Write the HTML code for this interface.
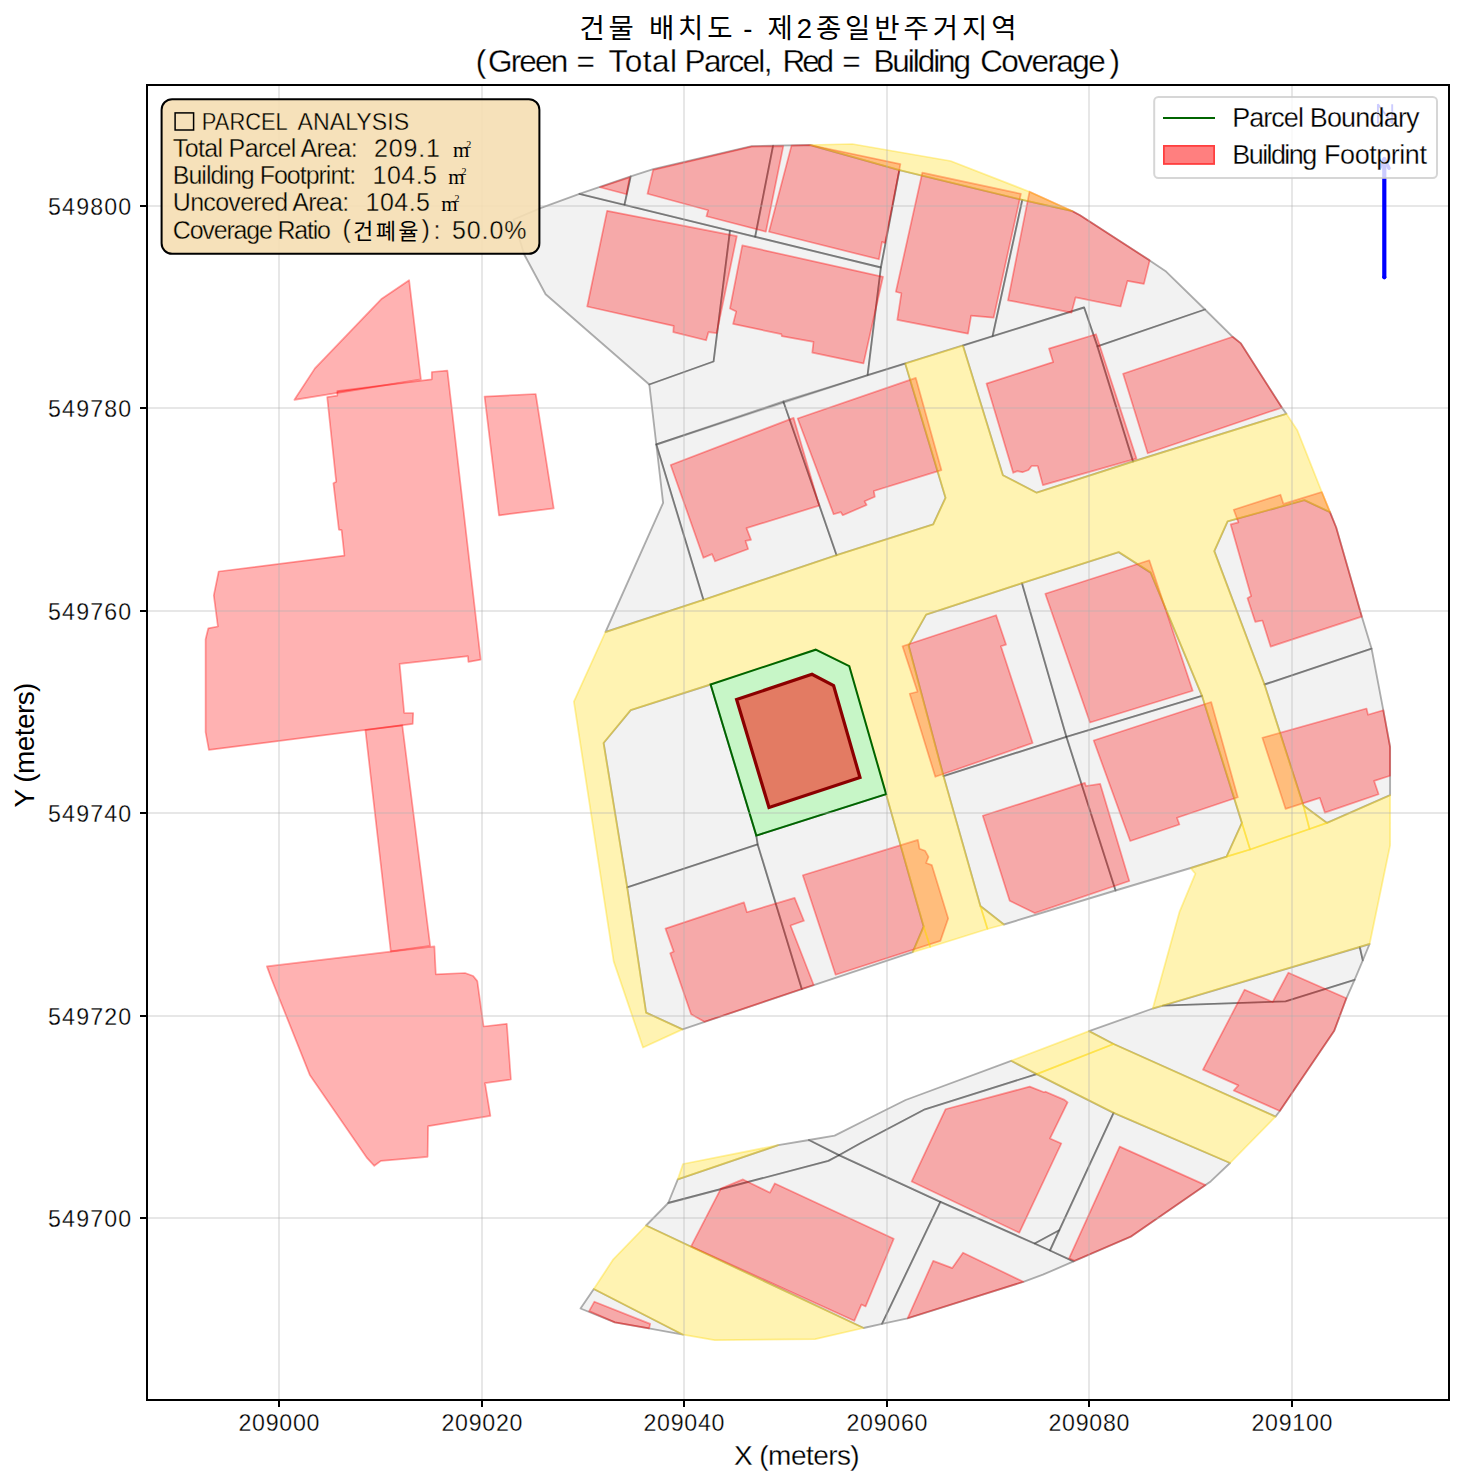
<!DOCTYPE html>
<html lang="ko"><head><meta charset="utf-8"><title>건물 배치도 - 제2종일반주거지역</title>
<style>html,body{margin:0;padding:0;background:#fff;}body{width:1464px;height:1483px;overflow:hidden;}svg{display:block;}text{font-family:"Liberation Sans",sans-serif;fill:#000;}
.pc{fill:rgba(211,211,211,0.3);stroke:rgba(0,0,0,0.31);stroke-width:1.85;stroke-linejoin:round;}
.rd{fill:rgba(255,215,0,0.3);stroke:rgba(255,215,0,0.36);stroke-width:1.75;stroke-linejoin:round;}
.bd{fill:rgba(255,0,0,0.3);stroke:rgba(255,0,0,0.36);stroke-width:1.7;stroke-linejoin:round;}
.gl{stroke:rgba(176,176,176,0.3);stroke-width:2;fill:none;}
.tk{stroke:#000;stroke-width:2;fill:none;}
</style></head><body>
<svg width="1464" height="1483" viewBox="0 0 1464 1483">
<rect x="0" y="0" width="1464" height="1483" fill="#fff"/>
<defs><clipPath id="axclip"><rect x="147.0" y="85.0" width="1302.0" height="1315.0"/></clipPath></defs>
<g clip-path="url(#axclip)">
<g class="pc">
<polygon points="579.4,193.8 730.0,230.7 713.6,361.5 649.3,384.5 545.6,294.2 524.1,254.2 513.5,219.5 540.5,208.1"/>
<polygon points="579.4,193.8 630.7,176.4 624.5,204.8"/>
<polygon points="630.7,176.4 653.2,169.2 751.6,146.2 773.1,145.6 755.2,236.8 624.5,204.8"/>
<polygon points="773.1,145.6 810.2,145.0 899.4,170.2 880.9,267.5 755.2,236.8"/>
<polygon points="730.0,230.7 880.9,267.5 867.6,375.1 656.3,444.5 649.3,384.5 713.6,361.5"/>
<polygon points="899.4,170.2 1022.3,199.9 992.6,336.2 867.6,375.1 880.9,267.5"/>
<polygon points="1022.3,199.9 1072.5,211.2 1080.0,215.3 1149.7,260.4 1166.1,271.6 1205.0,309.5 1097.4,346.4 1084.1,307.5 992.6,336.2"/>
<polygon points="1097.4,346.4 1205.0,309.5 1232.7,336.8 1240.9,343.4 1281.9,407.6 1286.4,413.8 1133.0,461.5"/>
<polygon points="656.3,444.5 783.4,401.5 836.6,555.2 703.4,599.8"/>
<polygon points="656.3,444.5 663.1,502.9 605.5,632.0 703.4,599.8"/>
<polygon points="783.4,401.5 905.2,363.6 945.5,497.8 933.2,524.4 836.6,555.2"/>
<polygon points="963.0,345.7 1084.1,307.5 1097.4,346.4 1133.0,461.5 1036.7,492.7 1002.9,475.2"/>
<polygon points="1227.6,521.4 1304.4,500.2 1330.0,512.1 1336.2,527.5 1361.8,616.6 1371.6,648.7 1264.5,684.5 1214.3,551.1"/>
<polygon points="1264.5,684.5 1371.6,648.7 1383.3,710.2 1390.1,747.0 1390.1,795.2 1327.0,822.9 1303.4,805.5"/>
<polygon points="710.6,684.5 756.3,835.6 757.7,844.4 627.2,887.4 603.6,743.0 630.7,710.2"/>
<polygon points="627.2,887.4 757.7,844.4 801.8,989.1 682.5,1029.4 646.1,1012.6"/>
<polygon points="756.3,835.6 886.1,794.2 923.6,926.6 912.7,952.2 801.8,989.1 757.7,844.4"/>
<polygon points="926.1,614.6 1022.0,583.2 1066.4,736.8 943.5,776.1 908.6,645.6"/>
<polygon points="943.5,776.1 1066.4,736.8 1115.6,890.5 1003.9,924.5 980.4,906.1"/>
<polygon points="1022.0,583.2 1118.7,552.1 1150.7,572.6 1202.0,695.8 1066.4,736.8"/>
<polygon points="1066.4,736.8 1202.0,695.8 1241.9,822.9 1226.6,856.7 1190.7,868.0 1115.6,890.5"/>
<polygon points="677.8,1179.4 778.2,1145.2 809.0,1140.0 839.0,1155.2 828.4,1160.9 668.2,1203.0"/>
<polygon points="809.0,1140.0 834.6,1135.7 865.6,1120.0 905.6,1100.0 1011.1,1060.8 1036.7,1074.1 925.0,1109.3 860.0,1143.5 839.0,1155.2"/>
<polygon points="668.2,1203.0 828.4,1160.9 839.0,1155.2 940.4,1201.9 882.0,1323.9 863.6,1328.0 646.1,1225.5"/>
<polygon points="839.0,1155.2 860.0,1143.5 925.0,1109.3 1036.7,1074.1 1113.6,1112.8 1059.3,1230.2 1034.7,1243.5 940.4,1201.9"/>
<polygon points="1034.7,1243.5 1059.3,1230.2 1050.0,1250.5"/>
<polygon points="940.4,1201.9 1050.0,1250.5 1073.6,1261.4 1042.9,1274.7 1023.4,1281.8 907.6,1318.3 882.0,1323.9"/>
<polygon points="1113.6,1112.8 1230.1,1163.0 1210.7,1181.4 1205.5,1185.1 1130.7,1236.7 1073.6,1261.4 1050.0,1250.5"/>
<polygon points="1163.0,1005.7 1359.8,947.0 1362.8,960.4 1354.6,979.8 1285.6,1001.4"/>
<polygon points="1359.8,947.0 1369.6,944.0 1362.8,960.4"/>
<polygon points="1089.0,1031.1 1152.8,1008.5 1163.0,1005.7 1285.6,1001.4 1354.6,979.8 1346.4,998.3 1334.1,1031.1 1279.8,1111.0 1275.5,1116.6 1113.6,1044.0"/>
<polygon points="593.8,1289.0 683.0,1334.7 650.2,1328.6 614.9,1322.4 580.5,1308.5"/>
</g>
<g class="bd">
<polygon points="409.1,280.2 420.9,379.3 294.4,399.8 314.9,368.4 381.8,298.7"/>
<polygon points="431.8,372.0 447.4,370.6 480.7,659.7 468.4,661.9 467.9,656.2 399.6,663.8 404.2,713.0 413.2,713.0 412.7,723.9 208.9,749.9 205.6,732.1 205.6,639.2 208.3,628.3 217.9,626.5 213.8,595.3 218.7,571.5 344.4,555.6 341.6,530.2 338.9,529.6 333.4,483.2 336.2,481.8 327.2,397.1 337.3,395.7 337.3,391.1 431.8,379.3"/>
<polygon points="484.6,396.6 535.7,394.0 553.7,508.3 499.0,515.4"/>
<polygon points="365.4,730.0 402.3,725.3 430.2,945.8 390.8,951.3"/>
<polygon points="266.9,966.4 434.4,946.4 435.8,974.3 465.0,973.0 473.2,976.0 477.3,981.1 483.6,1026.5 506.8,1023.8 510.9,1079.5 485.0,1083.1 490.4,1115.8 428.1,1126.2 427.6,1156.8 380.9,1160.9 374.3,1165.8 367.2,1158.2 309.8,1074.9 271.6,979.2"/>
<polygon points="653.2,169.8 751.6,146.6 783.3,146.2 765.9,231.7 706.5,216.3 708.1,210.2 647.5,193.8"/>
<polygon points="599.9,187.2 629.6,177.4 626.6,194.2"/>
<polygon points="791.5,145.6 810.2,145.0 900.4,164.1 885.0,243.0 882.0,241.9 878.9,259.3 769.0,231.7"/>
<polygon points="607.1,210.8 736.8,236.2 716.7,333.1 708.5,332.1 706.1,340.3 673.3,332.1 673.7,325.9 587.2,306.5"/>
<polygon points="742.3,245.4 883.0,276.8 863.5,363.4 812.3,352.6 813.5,341.8 781.9,336.2 781.3,334.1 733.1,323.9 736.2,311.6 730.0,308.5"/>
<polygon points="922.3,172.7 1020.9,193.8 993.6,317.7 971.1,315.7 968.0,333.7 897.3,319.8 901.4,293.2 895.9,291.7"/>
<polygon points="1029.5,191.7 1072.5,211.2 1080.0,215.3 1149.7,260.4 1143.9,283.9 1127.5,280.9 1120.6,306.5 1075.6,297.3 1071.5,312.6 1008.0,300.3"/>
<polygon points="797.7,418.5 915.8,377.9 941.4,470.1 873.8,491.0 874.8,496.8 864.6,501.3 866.6,505.0 842.8,515.2 840.7,512.1 833.6,514.2"/>
<polygon points="986.5,383.6 1053.1,362.1 1049.0,348.6 1096.0,334.2 1136.5,458.6 1042.9,485.1 1037.7,466.0 1031.6,466.0 1028.5,470.0 1022.4,472.2 1017.3,471.1 1013.2,472.8"/>
<polygon points="1123.1,373.8 1232.7,336.8 1240.9,343.4 1281.9,407.6 1147.7,453.3"/>
<polygon points="670.7,465.0 793.6,417.9 819.2,505.6 746.5,528.1 751.0,539.8 745.5,540.8 748.1,549.0 715.1,561.3 712.0,554.1 703.4,557.8"/>
<polygon points="902.5,646.2 996.1,615.2 1006.0,644.6 1000.9,646.2 1032.6,743.0 935.3,776.8 909.7,693.8 917.5,691.7"/>
<polygon points="1045.3,593.7 1149.3,560.3 1192.7,690.7 1090.0,722.5"/>
<polygon points="1230.7,524.4 1238.4,522.4 1233.7,509.7 1280.5,494.7 1283.5,503.9 1321.8,492.0 1330.0,512.1 1336.2,527.5 1361.8,616.6 1270.6,646.6 1262.4,620.5 1255.2,621.8 1247.5,598.2 1251.1,596.1"/>
<polygon points="665.5,928.6 744.0,902.4 746.9,912.2 794.6,897.9 803.9,920.8 790.5,925.5 813.7,985.0 704.5,1021.8 691.1,1014.3 670.2,953.2 673.7,951.6"/>
<polygon points="802.8,875.3 917.9,839.9 919.5,848.7 925.0,850.7 928.5,856.9 926.1,863.0 931.8,865.1 948.2,918.4 940.4,940.9 835.6,974.7"/>
<polygon points="982.8,815.7 1084.9,782.9 1085.9,786.0 1100.2,783.9 1129.3,881.0 1034.7,913.1 1009.7,900.8"/>
<polygon points="1093.7,740.5 1211.2,702.0 1237.8,797.3 1177.0,817.7 1179.4,824.5 1130.2,841.0"/>
<polygon points="1262.4,737.8 1366.5,708.5 1368.0,714.7 1383.3,710.2 1390.1,747.0 1390.1,775.7 1374.1,780.9 1378.6,794.2 1324.9,812.6 1319.8,797.9 1285.6,808.9"/>
<polygon points="945.5,1109.3 1029.7,1086.6 1044.0,1092.3 1045.5,1091.7 1064.5,1099.9 1067.6,1102.4 1050.0,1138.4 1061.3,1143.5 1019.3,1232.7 911.7,1181.4"/>
<polygon points="1244.6,989.7 1272.7,1002.0 1288.4,972.7 1346.4,998.3 1334.1,1031.1 1279.8,1111.0 1233.7,1090.5 1238.4,1085.4 1203.0,1069.6"/>
<polygon points="720.9,1188.6 743.0,1179.4 770.0,1192.7 774.8,1183.5 893.7,1238.8 865.6,1306.4 861.5,1304.4 854.3,1320.8 691.1,1246.4"/>
<polygon points="907.6,1318.3 933.2,1260.9 952.3,1268.1 963.0,1252.7 1023.4,1281.8"/>
<polygon points="1119.7,1146.6 1205.5,1185.1 1130.7,1236.7 1074.6,1260.7 1069.1,1258.3"/>
<polygon points="594.4,1301.7 650.2,1323.9 649.1,1328.4 614.9,1322.4 589.1,1311.1"/>
</g>
<g class="rd">
<polygon points="810.2,145.0 852.3,144.0 950.6,161.0 1029.5,191.7 1072.5,211.2 1022.3,199.9 899.4,170.2"/>
<polygon points="905.2,363.6 963.0,345.7 1002.9,475.2 1036.7,492.7 1133.0,461.5 1286.4,413.8 1297.3,430.2 1321.8,492.0 1330.0,512.1 1304.4,500.2 1227.6,521.4 1214.3,551.1 1264.5,684.5 1303.4,805.5 1309.5,829.0 1250.1,849.5 1241.9,822.9 1202.0,695.8 1150.7,572.6 1118.7,552.1 1022.0,583.2 926.1,614.6 908.6,645.6 943.5,776.1 980.4,906.1 987.5,929.0 930.2,947.0 923.6,926.6 886.1,794.2 849.3,666.1 815.7,649.7 710.6,684.5 630.7,710.2 603.6,743.0 627.2,887.4 646.1,1012.6 682.5,1029.4 643.0,1047.5 613.7,961.4 573.9,701.6 605.5,632.0 703.4,599.8 836.6,555.2 933.2,524.4 945.5,497.8"/>
<polygon points="923.6,926.6 912.7,952.2 930.2,947.0"/>
<polygon points="980.4,906.1 1003.9,924.5 987.5,929.0"/>
<polygon points="1190.7,868.2 1226.6,856.7 1250.1,849.5 1309.5,829.0 1327.0,822.9 1390.1,795.2 1390.1,845.4 1369.6,944.0 1152.8,1008.5 1179.4,912.2 1195.4,873.7"/>
<polygon points="1226.6,856.7 1241.9,822.9 1250.1,849.5"/>
<polygon points="1303.4,805.5 1327.0,822.9 1309.5,829.0"/>
<polygon points="1011.1,1060.8 1089.0,1031.1 1113.6,1044.0 1036.7,1074.1"/>
<polygon points="1036.7,1074.1 1113.6,1044.0 1275.5,1116.6 1230.1,1163.0 1113.6,1112.8"/>
<polygon points="646.1,1225.5 863.6,1328.0 815.1,1339.2 714.7,1340.2 683.0,1334.7 593.8,1289.0 613.3,1259.3"/>
<polygon points="683.0,1164.0 778.2,1145.2 677.8,1179.4"/>
</g>
<polygon points="710.6,684.5 815.7,649.7 849.3,666.1 886.1,794.2 756.3,835.6" fill="rgba(144,238,144,0.5)" stroke="#006400" stroke-width="2" stroke-linejoin="miter"/>
<polygon points="736.6,699.5 812.0,674.3 833.6,685.6 860.0,777.5 769.0,807.5" fill="rgba(255,0,0,0.5)" stroke="#8b0000" stroke-width="3.2" stroke-linejoin="miter"/>
<g class="gl">
<line x1="279.0" y1="85.0" x2="279.0" y2="1400.0"/>
<line x1="482.0" y1="85.0" x2="482.0" y2="1400.0"/>
<line x1="684.0" y1="85.0" x2="684.0" y2="1400.0"/>
<line x1="887.0" y1="85.0" x2="887.0" y2="1400.0"/>
<line x1="1089.0" y1="85.0" x2="1089.0" y2="1400.0"/>
<line x1="1292.0" y1="85.0" x2="1292.0" y2="1400.0"/>
<line x1="147.0" y1="206.0" x2="1449.0" y2="206.0"/>
<line x1="147.0" y1="408.0" x2="1449.0" y2="408.0"/>
<line x1="147.0" y1="611.0" x2="1449.0" y2="611.0"/>
<line x1="147.0" y1="813.0" x2="1449.0" y2="813.0"/>
<line x1="147.0" y1="1016.0" x2="1449.0" y2="1016.0"/>
<line x1="147.0" y1="1218.0" x2="1449.0" y2="1218.0"/>
</g>
<line x1="1384.3" y1="277.5" x2="1384.3" y2="160" stroke="#0000ff" stroke-width="4.2" stroke-linecap="butt"/>
<circle cx="1384.3" cy="277.3" r="2.1" fill="#0000ff"/>
<path d="M1379.6 168.2 L1384.3 158.6 L1389 168.2" fill="none" stroke="#0000ff" stroke-width="3.6" stroke-linecap="round" stroke-linejoin="round"/>
<path d="M1377.9 123.5 V104.2 L1392.2 123.5 V104.2" fill="none" stroke="#0000ff" stroke-width="1.9" stroke-linejoin="bevel"><title>N</title></path>
</g>
<rect x="161.6" y="99.2" width="377.8" height="154.6" rx="10.5" ry="10.5" fill="rgba(245,222,179,0.9)" stroke="#000" stroke-width="2"/>
<rect x="175.1" y="112.9" width="18.5" height="17.1" fill="none" stroke="#000" stroke-width="1.5"/>
<text x="201.8" y="130.2" font-size="24.5" stroke="#f6e1bb" stroke-width="0.36" textLength="86.0" lengthAdjust="spacingAndGlyphs">PARCEL</text>
<text x="297.6" y="130.2" font-size="24.5" stroke="#f6e1bb" stroke-width="0.36" textLength="111.5" lengthAdjust="spacingAndGlyphs">ANALYSIS</text>
<text x="172.8" y="157.1" font-size="25" stroke="#f6e1bb" stroke-width="0.36" textLength="184.8" lengthAdjust="spacing">Total Parcel Area:</text>
<text x="374.0" y="157.1" font-size="25" stroke="#f6e1bb" stroke-width="0.36" textLength="65.8" lengthAdjust="spacing">209.1</text>
<text x="172.8" y="184.1" font-size="25" stroke="#f6e1bb" stroke-width="0.36" textLength="183.4" lengthAdjust="spacing">Building Footprint:</text>
<text x="372.6" y="184.1" font-size="25" stroke="#f6e1bb" stroke-width="0.36" textLength="64.4" lengthAdjust="spacing">104.5</text>
<text x="172.8" y="211.2" font-size="25" stroke="#f6e1bb" stroke-width="0.36" textLength="176.4" lengthAdjust="spacing">Uncovered Area:</text>
<text x="365.6" y="211.2" font-size="25" stroke="#f6e1bb" stroke-width="0.36" textLength="64.4" lengthAdjust="spacing">104.5</text>
<text x="172.8" y="238.7" font-size="25" stroke="#f6e1bb" stroke-width="0.36" textLength="158.2" lengthAdjust="spacing">Coverage Ratio</text>
<text x="342.6" y="237.8" font-size="25" stroke="#f6e1bb" stroke-width="0.36">(</text>
<text x="421.6" y="237.8" font-size="25" stroke="#f6e1bb" stroke-width="0.36">)</text>
<text x="433.5" y="238.7" font-size="25" stroke="#f6e1bb" stroke-width="0.36">:</text>
<text x="451.9" y="238.7" font-size="25" stroke="#f6e1bb" stroke-width="0.36" textLength="74.6" lengthAdjust="spacing">50.0%</text>
<text x="453.0" y="157.0" font-size="21" style="font-family:'Liberation Serif',serif">m</text>
<text x="466.2" y="148.2" font-size="10" style="font-family:'Liberation Serif',serif">2</text>
<text x="448.2" y="184.0" font-size="21" style="font-family:'Liberation Serif',serif">m</text>
<text x="461.4" y="175.2" font-size="10" style="font-family:'Liberation Serif',serif">2</text>
<text x="441.2" y="211.1" font-size="21" style="font-family:'Liberation Serif',serif">m</text>
<text x="454.4" y="202.3" font-size="10" style="font-family:'Liberation Serif',serif">2</text>
<text x="353.0" y="238.6" font-size="22" textLength="65.5" lengthAdjust="spacing" style="font-family:'Liberation Sans','Noto Sans CJK KR',sans-serif">건폐율</text>
<rect x="1154.2" y="97" width="282.8" height="81" rx="4.2" ry="4.2" fill="rgba(255,255,255,0.8)" stroke="rgba(204,204,204,0.8)" stroke-width="2"/>
<line x1="1163" y1="118" x2="1215" y2="118" stroke="#006400" stroke-width="2.1"/>
<rect x="1163" y="145" width="52" height="19.8" fill="rgba(255,0,0,0.5)"/>
<rect x="1163.9" y="145.9" width="50.2" height="18" fill="none" stroke="rgba(255,0,0,0.5)" stroke-width="1.8"/>
<text x="1232.3" y="126.9" font-size="27" stroke="#fff" stroke-width="0.28" textLength="71.6" lengthAdjust="spacing">Parcel</text>
<text x="1309.7" y="126.9" font-size="27" stroke="#fff" stroke-width="0.28" textLength="109.9" lengthAdjust="spacing">Boundary</text>
<text x="1232.3" y="163.7" font-size="27" stroke="#fff" stroke-width="0.28" textLength="84.9" lengthAdjust="spacing">Building</text>
<text x="1324.1" y="163.7" font-size="27" stroke="#fff" stroke-width="0.28" textLength="102.8" lengthAdjust="spacing">Footprint</text>
<rect x="147.0" y="85.0" width="1302.0" height="1315.0" fill="none" stroke="#000" stroke-width="2"/>
<g class="tk">
<line x1="279.0" y1="1400.0" x2="279.0" y2="1407.0"/>
<line x1="482.0" y1="1400.0" x2="482.0" y2="1407.0"/>
<line x1="684.0" y1="1400.0" x2="684.0" y2="1407.0"/>
<line x1="887.0" y1="1400.0" x2="887.0" y2="1407.0"/>
<line x1="1089.0" y1="1400.0" x2="1089.0" y2="1407.0"/>
<line x1="1292.0" y1="1400.0" x2="1292.0" y2="1407.0"/>
<line x1="147.0" y1="206.0" x2="140.0" y2="206.0"/>
<line x1="147.0" y1="408.0" x2="140.0" y2="408.0"/>
<line x1="147.0" y1="611.0" x2="140.0" y2="611.0"/>
<line x1="147.0" y1="813.0" x2="140.0" y2="813.0"/>
<line x1="147.0" y1="1016.0" x2="140.0" y2="1016.0"/>
<line x1="147.0" y1="1218.0" x2="140.0" y2="1218.0"/>
</g>
<text x="238.5" y="1431.3" font-size="23.2" stroke="#fff" stroke-width="0.28" textLength="81.0" lengthAdjust="spacing">209000</text>
<text x="441.5" y="1431.3" font-size="23.2" stroke="#fff" stroke-width="0.28" textLength="81.0" lengthAdjust="spacing">209020</text>
<text x="643.5" y="1431.3" font-size="23.2" stroke="#fff" stroke-width="0.28" textLength="81.0" lengthAdjust="spacing">209040</text>
<text x="846.5" y="1431.3" font-size="23.2" stroke="#fff" stroke-width="0.28" textLength="81.0" lengthAdjust="spacing">209060</text>
<text x="1048.5" y="1431.3" font-size="23.2" stroke="#fff" stroke-width="0.28" textLength="81.0" lengthAdjust="spacing">209080</text>
<text x="1251.5" y="1431.3" font-size="23.2" stroke="#fff" stroke-width="0.28" textLength="81.0" lengthAdjust="spacing">209100</text>
<text x="48.1" y="214.7" font-size="23.2" stroke="#fff" stroke-width="0.28" textLength="83.0" lengthAdjust="spacing">549800</text>
<text x="48.1" y="416.7" font-size="23.2" stroke="#fff" stroke-width="0.28" textLength="83.0" lengthAdjust="spacing">549780</text>
<text x="48.1" y="619.7" font-size="23.2" stroke="#fff" stroke-width="0.28" textLength="83.0" lengthAdjust="spacing">549760</text>
<text x="48.1" y="821.7" font-size="23.2" stroke="#fff" stroke-width="0.28" textLength="83.0" lengthAdjust="spacing">549740</text>
<text x="48.1" y="1024.7" font-size="23.2" stroke="#fff" stroke-width="0.28" textLength="83.0" lengthAdjust="spacing">549720</text>
<text x="48.1" y="1226.7" font-size="23.2" stroke="#fff" stroke-width="0.28" textLength="83.0" lengthAdjust="spacing">549700</text>
<text x="734.0" y="1464.5" font-size="28" stroke="#fff" stroke-width="0.28" textLength="125.7" lengthAdjust="spacing">X (meters)</text>
<text transform="translate(34,807.6) rotate(-90)" font-size="28" textLength="125" lengthAdjust="spacing">Y (meters)</text>
<text x="579.5" y="38.1" font-size="27.5" textLength="153" lengthAdjust="spacing" style="font-family:'Liberation Sans','Noto Sans CJK KR',sans-serif">건물 배치도</text>
<text x="743.3" y="38.1" font-size="27.5" style="font-family:'Liberation Sans','Noto Sans CJK KR',sans-serif">-</text>
<text x="767.5" y="38.1" font-size="27.5" textLength="249" lengthAdjust="spacing" style="font-family:'Liberation Sans','Noto Sans CJK KR',sans-serif">제2종일반주거지역</text>
<text x="475.7" y="71.6" font-size="31.5" stroke="#fff" stroke-width="0.28">(</text>
<text x="488.0" y="71.6" font-size="31.5" stroke="#fff" stroke-width="0.28" textLength="80.3" lengthAdjust="spacing">Green</text>
<text x="576.6" y="71.6" font-size="31.5" stroke="#fff" stroke-width="0.28">=</text>
<text x="608.4" y="71.6" font-size="31.5" stroke="#fff" stroke-width="0.28" textLength="68.6" lengthAdjust="spacing">Total</text>
<text x="684.6" y="71.6" font-size="31.5" stroke="#fff" stroke-width="0.28" textLength="87.8" lengthAdjust="spacing">Parcel,</text>
<text x="782.5" y="71.6" font-size="31.5" stroke="#fff" stroke-width="0.28" textLength="51.6" lengthAdjust="spacing">Red</text>
<text x="842.2" y="71.6" font-size="31.5" stroke="#fff" stroke-width="0.28">=</text>
<text x="873.4" y="71.6" font-size="31.5" stroke="#fff" stroke-width="0.28" textLength="97.7" lengthAdjust="spacing">Building</text>
<text x="980.2" y="71.6" font-size="31.5" stroke="#fff" stroke-width="0.28" textLength="125.6" lengthAdjust="spacing">Coverage</text>
<text x="1109.5" y="71.6" font-size="31.5" stroke="#fff" stroke-width="0.28">)</text>
</svg></body></html>
